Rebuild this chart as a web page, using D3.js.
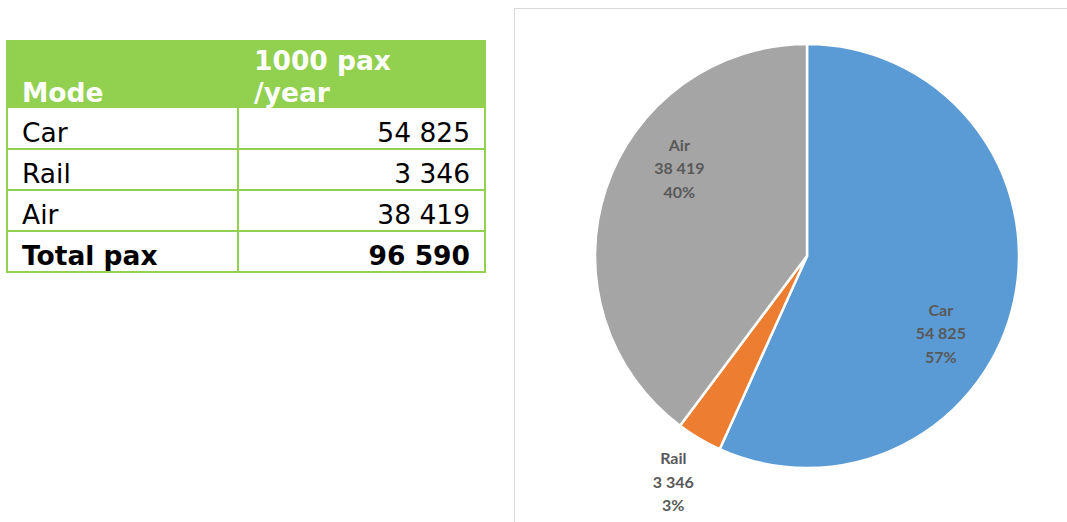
<!DOCTYPE html>
<html>
<head>
<meta charset="utf-8">
<script src="https://cdn.jsdelivr.net/npm/d3@7"></script>
<style>
  html, body { margin: 0; padding: 0; background: #fff; }
  svg { display: block; }
</style>
</head>
<body>
<svg id="chart" width="1067" height="522"></svg>
<script>
// Passenger volumes by mode, thousands of passengers per year
const modes = ["Car", "Rail", "Air"];
const paxValues = [54825, 3346, 38419];
const headerLabels = ["Mode", "1000 pax", "/year"];
const totalLabel = "Total pax";
const sliceColors = ["#5B9BD5", "#ED7D31", "#A5A5A5"];

const total = d3.sum(paxValues);
const fmt = v => d3.format(",")(v).replace(/,/g, " ");
const pct = d3.format(".0%");

const svg = d3.select("#chart");

// ---------- Table ----------
const green = "#92D050";
const tbl = svg.append("g");
const colX = [7, 238, 485];
const headTop = 40, headBottom = 108;
const rowH = 41;
const fs = 26.5;
const rows = modes.map((m, i) => ({ label: m, value: fmt(paxValues[i]), bold: false }))
  .concat([{ label: totalLabel, value: fmt(total), bold: true }]);

tbl.append("rect")
  .attr("x", colX[0] - 1).attr("y", headTop)
  .attr("width", colX[2] - colX[0] + 2).attr("height", headBottom - headTop)
  .attr("fill", green);

const tableFont = "'DejaVu Sans', Verdana, sans-serif";
const head = (x, y, s) => tbl.append("text").attr("x", x).attr("y", y).text(s)
  .attr("font-family", tableFont).attr("font-size", fs).attr("font-weight", "bold").attr("fill", "#fff");
head(22, 102, headerLabels[0]);
head(254, 70, headerLabels[1]);
head(254, 102, headerLabels[2]);

const rowG = tbl.selectAll("g.row").data(rows).join("g").attr("class", "row")
  .attr("transform", (d, i) => `translate(0,${headBottom + i * rowH})`);

rowG.append("text").attr("x", 22).attr("y", 34).text(d => d.label)
  .attr("font-family", tableFont).attr("font-size", fs)
  .attr("font-weight", d => d.bold ? "bold" : "normal").attr("fill", "#000");
rowG.append("text").attr("x", 470).attr("y", 34).attr("text-anchor", "end").text(d => d.value)
  .attr("font-family", tableFont).attr("font-size", fs)
  .attr("font-weight", d => d.bold ? "bold" : "normal").attr("fill", "#000");

// grid lines
const bodyBottom = headBottom + rows.length * rowH;
for (let i = 1; i <= rows.length; i++) {
  tbl.append("line").attr("x1", colX[0]).attr("x2", colX[2])
    .attr("y1", headBottom + i * rowH).attr("y2", headBottom + i * rowH)
    .attr("stroke", green).attr("stroke-width", 2);
}
[colX[0], colX[1], colX[2]].forEach(x => {
  tbl.append("line").attr("x1", x).attr("x2", x)
    .attr("y1", headBottom).attr("y2", bodyBottom + 1)
    .attr("stroke", green).attr("stroke-width", 2);
});

// ---------- Pie chart ----------
svg.append("rect")
  .attr("x", 514.5).attr("y", 8.5).attr("width", 560).attr("height", 520)
  .attr("fill", "#fff").attr("stroke", "#d9d9d9").attr("stroke-width", 1);

const cx = 807, cy = 256, r = 212;
const pie = d3.pie().sort(null).value(d => d.value).startAngle(0).endAngle(2 * Math.PI);
const data = modes.map((m, i) => ({ name: m, value: paxValues[i], color: sliceColors[i] }));
const arcs = pie(data);
const arc = d3.arc().innerRadius(0).outerRadius(r);

const pg = svg.append("g").attr("transform", `translate(${cx},${cy})`);
pg.selectAll("path").data(arcs).join("path")
  .attr("d", arc)
  .attr("fill", d => d.data.color)
  .attr("stroke", "#fff").attr("stroke-width", 2.5).attr("stroke-linejoin", "round");

// label placement: best-fit style, angle shift (deg) and radius factor per slice
const labelPlace = {
  Car:  { shift: 18,  rf: 0.73 },
  Rail: { shift: 0,   rf: 1.24 },
  Air:  { shift: 16,  rf: 0.73 }
};
const labelFont = "Lato, 'Open Sans', sans-serif";
arcs.forEach(a => {
  const frac = a.data.value / total;
  const p = labelPlace[a.data.name];
  const ang = (a.startAngle + a.endAngle) / 2 + p.shift * Math.PI / 180;
  const lx = Math.sin(ang) * r * p.rf;
  const ly = -Math.cos(ang) * r * p.rf;
  const t = pg.append("text")
    .attr("text-anchor", "middle")
    .attr("font-family", labelFont).attr("font-size", 16).attr("font-weight", "bold")
    .attr("fill", "#595959");
  [a.data.name, fmt(a.data.value), pct(frac)].forEach((s, k) => {
    t.append("tspan").attr("x", lx).attr("y", ly + (k - 1) * 23.5 + 5.5).text(s);
  });
});
</script>
</body>
</html>
